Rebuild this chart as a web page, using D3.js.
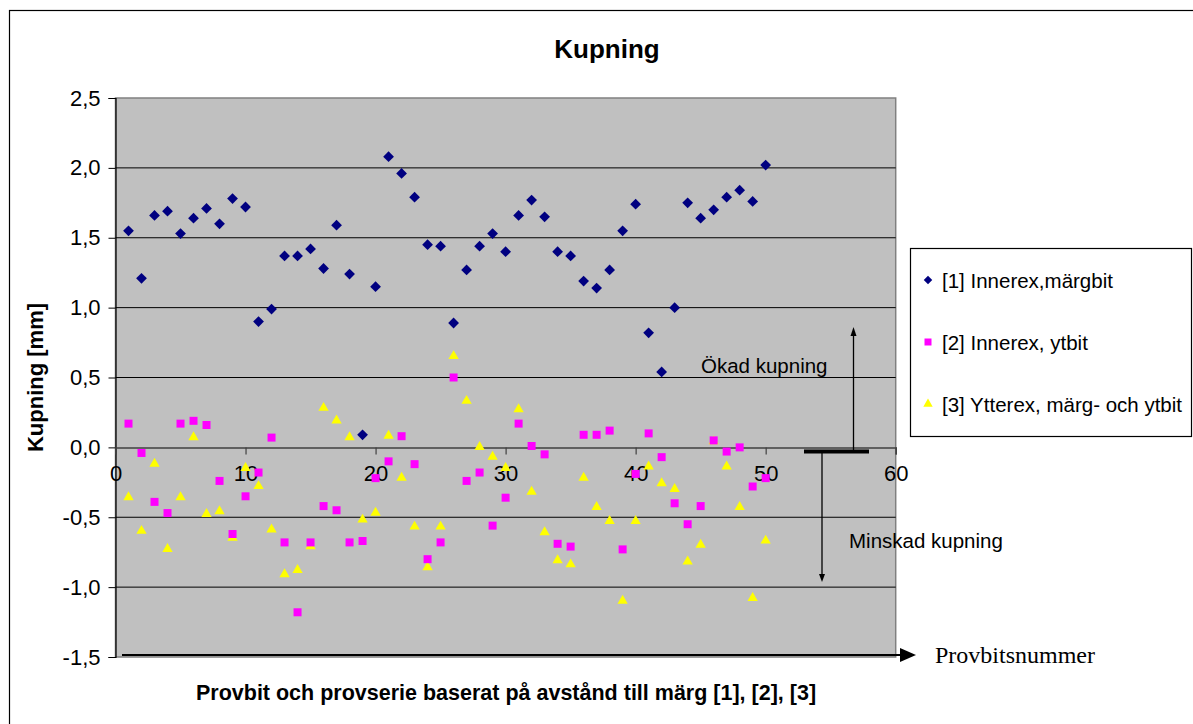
<!DOCTYPE html>
<html>
<head>
<meta charset="utf-8">
<script src="https://cdn.jsdelivr.net/npm/d3@7"></script>
<style>
  html, body { margin: 0; padding: 0; background: #fff; }
  svg { display: block; font-family: Arial, "Liberation Sans", sans-serif; }
</style>
</head>
<body>
<svg id="chart" width="1193" height="724"></svg>
<script>
// Provbit number (x) for all three series
const sampleNo = d3.range(1, 51);

// [1] Innerex, märgbit
const innerMarg = [1.55,1.21,1.66,1.69,1.53,1.64,1.71,1.60,1.78,1.72,
                   0.90,0.99,1.37,1.37,1.42,1.28,1.59,1.24,0.09,1.15,
                   2.08,1.96,1.79,1.45,1.44,0.89,1.27,1.44,1.53,1.40,
                   1.66,1.77,1.65,1.40,1.37,1.19,1.14,1.27,1.55,1.74,
                   0.82,0.54,1.00,1.75,1.64,1.70,1.79,1.84,1.76,2.02];

// [2] Innerex, ytbit
const innerYt = [0.17,-0.04,-0.39,-0.47,0.17,0.19,0.16,-0.24,-0.62,-0.35,
                 -0.18,0.07,-0.68,-1.18,-0.68,-0.42,-0.45,-0.68,-0.67,-0.22,
                 -0.10,0.08,-0.12,-0.80,-0.68,0.50,-0.24,-0.18,-0.56,-0.36,
                 0.17,0.01,-0.05,-0.69,-0.71,0.09,0.09,0.12,-0.73,-0.19,
                 0.10,-0.07,-0.40,-0.55,-0.42,0.05,-0.03,0.00,-0.28,-0.22];

// [3] Ytterex, märg- och ytbit
const ytterex = [-0.35,-0.59,-0.11,-0.72,-0.35,0.08,-0.47,-0.45,-0.64,-0.14,
                 -0.27,-0.58,-0.90,-0.87,-0.70,0.29,0.20,0.08,-0.51,-0.46,
                 0.09,-0.21,-0.56,-0.85,-0.56,0.66,0.34,0.01,-0.06,-0.14,
                 0.28,-0.31,-0.60,-0.80,-0.83,-0.21,-0.42,-0.52,-1.09,-0.52,
                 -0.13,-0.25,-0.29,-0.81,-0.69,0.05,-0.13,-0.42,-1.07,-0.66];

const xTicks = [0, 10, 20, 30, 40, 50, 60];
const yTicks = [2.5, 2.0, 1.5, 1.0, 0.5, 0.0, -0.5, -1.0, -1.5];

const seriesNames = ["[1] Innerex,märgbit", "[2] Innerex, ytbit", "[3] Ytterex, märg- och ytbit"];
const titleText = "Kupning";
const yTitle = "Kupning [mm]";
const xTitle = "Provbit och provserie baserat på avstånd till märg [1], [2], [3]";
const xArrowLabel = "Provbitsnummer";
const upLabel = "Ökad kupning";
const downLabel = "Minskad kupning";

const svg = d3.select("#chart");
const fmt = v => d3.format(".1f")(v).replace(".", ",").replace("−", "-");

const x = d3.scaleLinear().domain([0, 60]).range([115.5, 895.7]);
const y = d3.scaleLinear().domain([-1.5, 2.5]).range([657, 98]);

// Chart frame
svg.append("rect").attr("x", 9.5).attr("y", 10.5).attr("width", 1300).attr("height", 900)
  .attr("fill", "#fff").attr("stroke", "#000").attr("stroke-width", 1.2);

// Plot area
svg.append("rect")
  .attr("x", x(0)).attr("y", y(2.5))
  .attr("width", x(60) - x(0)).attr("height", y(-1.5) - y(2.5))
  .attr("fill", "#c0c0c0").attr("stroke", "#808080").attr("stroke-width", 1.5);

// Horizontal gridlines
svg.append("g").selectAll("line")
  .data(yTicks.filter(v => v < 2.5 && v > -1.5 && v !== 0))
  .join("line")
  .attr("x1", x(0)).attr("x2", x(60))
  .attr("y1", d => y(d)).attr("y2", d => y(d))
  .attr("stroke", "#000").attr("stroke-width", 1);

// Y axis
const yAxis = svg.append("g")
  .attr("transform", `translate(${x(0)},0)`)
  .call(d3.axisLeft(y).tickValues(yTicks).tickFormat(fmt).tickSize(7).tickPadding(8));
yAxis.select(".domain").attr("stroke", "#000").attr("stroke-width", 1.2);
yAxis.selectAll(".tick line").attr("stroke", "#000");
yAxis.selectAll("text").attr("font-size", 22).attr("fill", "#000")
  .attr("font-family", "Arial, 'Liberation Sans', sans-serif");

// X axis along zero
const xAxis = svg.append("g")
  .attr("transform", `translate(0,${y(0)})`)
  .call(d3.axisBottom(x).tickValues(xTicks).tickFormat(d3.format("d")).tickSize(7).tickPadding(11));
xAxis.select(".domain").attr("stroke", "#404040").attr("stroke-width", 1.5);
xAxis.selectAll(".tick line").attr("stroke", "#404040").attr("stroke-width", 1.2);
xAxis.selectAll("text").attr("font-size", 22).attr("fill", "#000")
  .attr("font-family", "Arial, 'Liberation Sans', sans-serif");

// Data markers
const diamond = d3.symbol().type(d3.symbolSquare).size(58);
const square = d3.symbol().type(d3.symbolSquare).size(64);
const triangle = d3.symbol().type(d3.symbolTriangle).size(46);

const marks = svg.append("g");
marks.selectAll(".s3").data(ytterex).join("path").attr("class", "s3")
  .attr("d", triangle)
  .attr("transform", (d, i) => `translate(${x(sampleNo[i])},${y(d) + 1})`)
  .attr("fill", "#ffff00");
marks.selectAll(".s2").data(innerYt).join("path").attr("class", "s2")
  .attr("d", square)
  .attr("transform", (d, i) => `translate(${x(sampleNo[i])},${y(d)})`)
  .attr("fill", "#ff00ff");
marks.selectAll(".s1").data(innerMarg).join("path").attr("class", "s1")
  .attr("d", diamond)
  .attr("transform", (d, i) => `translate(${x(sampleNo[i])},${y(d)}) rotate(45)`)
  .attr("fill", "#000080");

// Bottom arrow along x direction
const arrowY = y(-1.5) - 2;
svg.append("line").attr("x1", x(0.5)).attr("x2", 902).attr("y1", arrowY).attr("y2", arrowY)
  .attr("stroke", "#000").attr("stroke-width", 2);
svg.append("path")
  .attr("d", `M900,${arrowY - 7}L916,${arrowY}L900,${arrowY + 7}Z`).attr("fill", "#000");
svg.append("text").attr("x", 935).attr("y", arrowY + 8)
  .attr("font-family", "'Times New Roman', 'Liberation Serif', serif")
  .attr("font-size", 24).attr("fill", "#000").text(xArrowLabel);

// Increase / decrease indicator
const barY = y(0) + 4;
svg.append("line").attr("x1", 804).attr("x2", 869).attr("y1", barY).attr("y2", barY)
  .attr("stroke", "#000").attr("stroke-width", 4);
svg.append("line").attr("x1", 853.5).attr("x2", 853.5).attr("y1", barY).attr("y2", 334)
  .attr("stroke", "#000").attr("stroke-width", 1.3);
svg.append("path").attr("d", "M850.5,336L853.5,327L856.5,336Z").attr("fill", "#000");
svg.append("line").attr("x1", 822).attr("x2", 822).attr("y1", barY).attr("y2", 576)
  .attr("stroke", "#000").attr("stroke-width", 1.3);
svg.append("path").attr("d", "M819,574L822,582L825,574Z").attr("fill", "#000");
svg.append("text").attr("x", 701).attr("y", 373).attr("font-size", 20.5).attr("fill", "#000").text(upLabel);
svg.append("text").attr("x", 849).attr("y", 548).attr("font-size", 20.5).attr("fill", "#000").text(downLabel);

// Titles
svg.append("text").attr("x", 607).attr("y", 58).attr("text-anchor", "middle")
  .attr("font-weight", "bold").attr("font-size", 26).attr("fill", "#000").text(titleText);
svg.append("text").attr("transform", `translate(43,${y(0.5)}) rotate(-90)`)
  .attr("text-anchor", "middle").attr("font-weight", "bold").attr("font-size", 22)
  .attr("fill", "#000").text(yTitle);
svg.append("text").attr("x", 506).attr("y", 700).attr("text-anchor", "middle")
  .attr("font-weight", "bold").attr("font-size", 21.5).attr("fill", "#000").text(xTitle);

// Legend
const legend = svg.append("g");
legend.append("rect").attr("x", 910.5).attr("y", 248.5).attr("width", 281).attr("height", 188)
  .attr("fill", "#fff").attr("stroke", "#000").attr("stroke-width", 1.2);
const legendSymbols = [
  { sym: d3.symbol().type(d3.symbolSquare).size(36), fill: "#000080", rot: 45 },
  { sym: d3.symbol().type(d3.symbolSquare).size(49), fill: "#ff00ff", rot: 0 },
  { sym: d3.symbol().type(d3.symbolTriangle).size(38), fill: "#ffff00", rot: 0 }
];
const legendRow = d3.scalePoint().domain(d3.range(3)).range([280, 404]);
const rows = legend.selectAll("g.row").data(seriesNames).join("g").attr("class", "row")
  .attr("transform", (d, i) => `translate(928,${legendRow(i)})`);
rows.append("path")
  .attr("d", (d, i) => legendSymbols[i].sym())
  .attr("transform", (d, i) => `rotate(${legendSymbols[i].rot})`)
  .attr("fill", (d, i) => legendSymbols[i].fill);
rows.append("text").attr("x", 14).attr("y", 7.5).attr("font-size", 20.5).attr("fill", "#000")
  .text(d => d);
</script>
</body>
</html>
